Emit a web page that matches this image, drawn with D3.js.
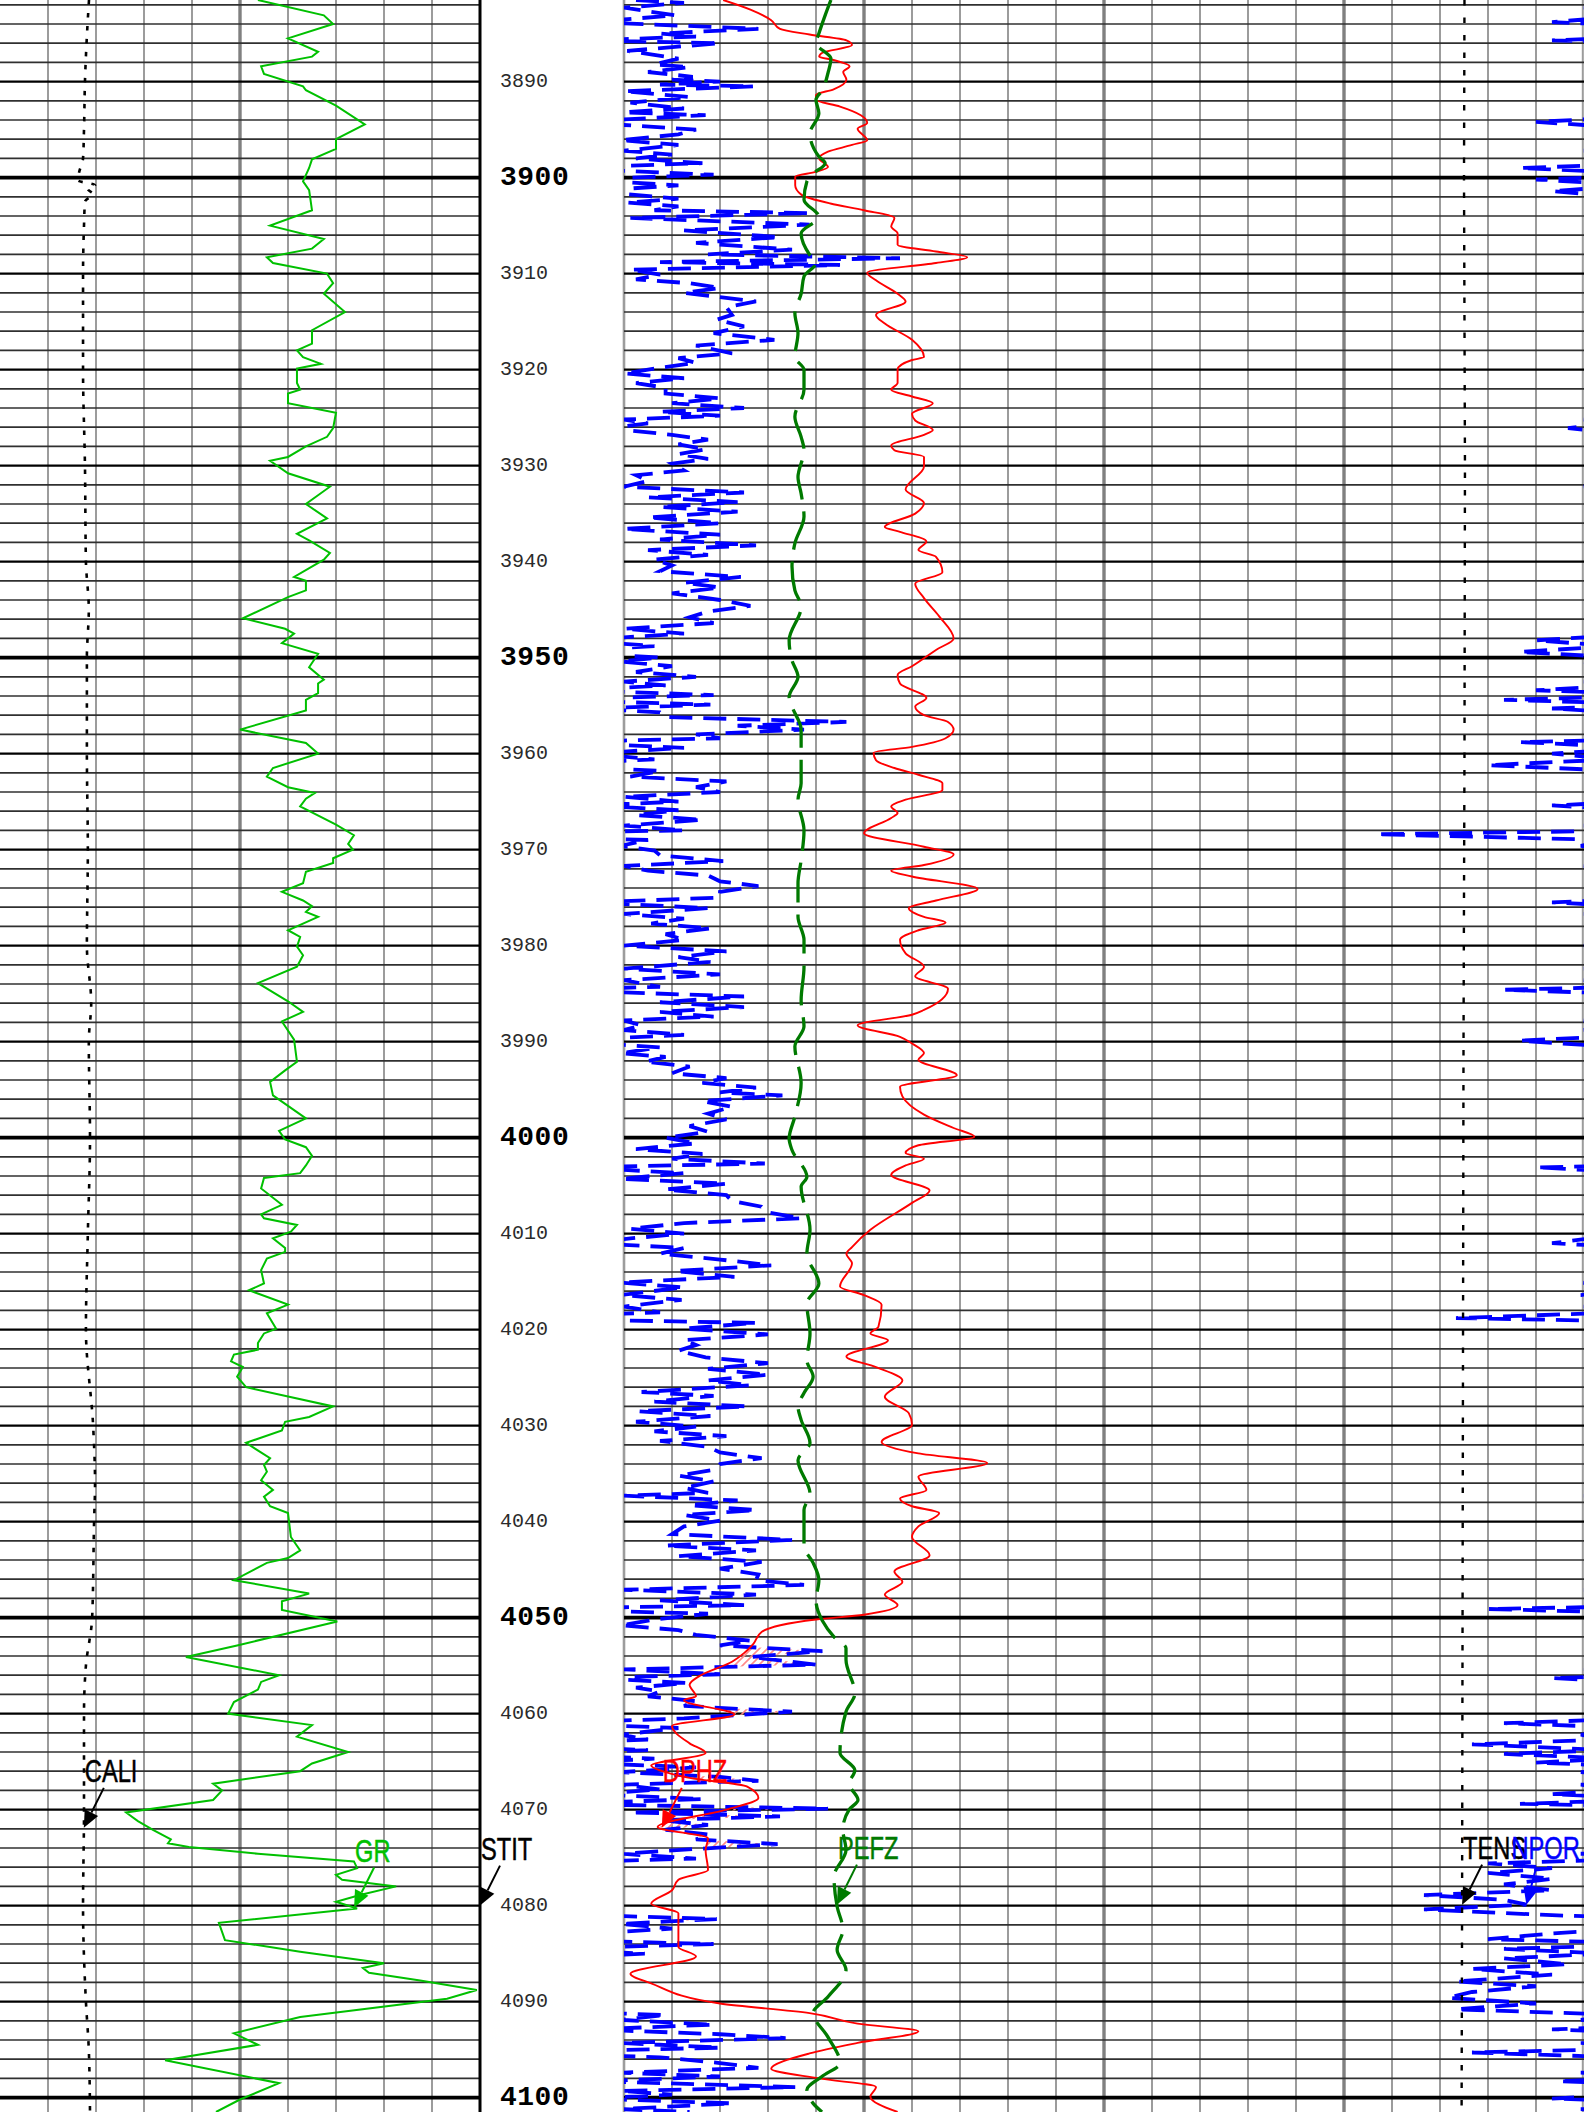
<!DOCTYPE html>
<html><head><meta charset="utf-8">
<script src="https://cdn.jsdelivr.net/npm/d3@7"></script>
<style>html,body{margin:0;padding:0;background:#fff;overflow:hidden}svg{display:block}</style>
</head><body>
<svg id="chart" width="1584" height="2112"></svg>
<script>
// ---------------- DATA ----------------
const depthLabels = [3890,3900,3910,3920,3930,3940,3950,3960,3970,3980,3990,4000,4010,4020,4030,4040,4050,4060,4070,4080,4090,4100];

const grData = [[3881.5,80.6],[3883.1,101.2],[3884.0,104.1],[3885.5,90],[3886.9,99.4],[3887.4,97.5],[3888.4,81.6],[3889.2,82.5],[3890.5,94.7],[3890.9,95.6],[3892.5,105],[3894.45,114],[3896.0,105],[3897.0,105],[3898.1,97.5],[3899.0,96.6],[3900.4,94.7],[3901.3,96.6],[3903.4,97.5],[3905.0,84.4],[3906.4,101.2],[3907.4,97.5],[3908.3,83.4],[3908.9,85.3],[3910.0,102.2],[3911.0,104.1],[3912.1,101.2],[3914.0,107.8],[3915.9,97.5],[3917.3,97.5],[3918.0,92.8],[3918.7,94.7],[3919.4,100.3],[3919.9,92.8],[3921.4,92.8],[3922.1,93.8],[3922.5,90],[3923.5,90],[3924.5,105],[3926.1,104.1],[3927.0,102.2],[3928.0,95.6],[3929.1,90],[3929.5,84.4],[3930.8,90],[3932.2,103.1],[3934.0,95.6],[3935.5,102.2],[3937.1,92.8],[3937.8,96.6],[3939.1,103.1],[3939.8,101.2],[3941.6,91.9],[3942.0,95.6],[3943.0,95.6],[3943.7,90],[3945.9,75.9],[3947.0,89.1],[3947.5,91.9],[3948.5,88.1],[3949.6,99.4],[3951.0,96.6],[3952.3,101.2],[3952.7,99.4],[3953.7,99.4],[3954.4,95.6],[3955.5,95.6],[3957.5,75],[3958.9,95.6],[3960.0,99.4],[3961.5,85.3],[3962.4,83.4],[3963.5,90],[3964.1,98.4],[3964.7,95.6],[3965.5,93.8],[3967.4,105],[3968.5,110.6],[3969.4,108.8],[3970.0,110.3],[3970.9,104.1],[3971.4,104.1],[3972.3,95.6],[3973.5,94.7],[3974.4,88.1],[3975.3,94.7],[3975.9,97.5],[3976.5,95.6],[3977.0,99.4],[3978.4,90],[3979.1,93.8],[3980.1,92.8],[3981.0,94.7],[3982.2,92.8],[3983.9,80.6],[3985.8,90],[3986.9,94.7],[3987.9,88.1],[3989.8,91.9],[3992.1,92.8],[3993.0,89.1],[3994.2,84.4],[3995.6,85.3],[3998.0,95.6],[3999.3,87.2],[4000.2,89.1],[4001.0,95.6],[4001.9,97.5],[4002.9,95.6],[4003.7,93.8],[4004.2,82.5],[4005.3,81.6],[4007.0,88.1],[4008.0,81.6],[4008.4,82.5],[4009.1,92.8],[4009.8,90.9],[4010.5,85.3],[4011.5,89.1],[4011.9,89.1],[4012.6,83.4],[4013.8,81.6],[4015.2,82.5],[4015.9,77.8],[4017.4,90],[4018.3,83.4],[4019.9,86.3],[4020.4,82.5],[4021.4,80.6],[4022.1,80.6],[4022.6,73.1],[4023.3,72.2],[4023.9,75.9],[4024.9,74.1],[4026.0,76.9],[4028.0,104.1],[4029.1,96.6],[4029.6,89.1],[4030.5,88.1],[4031.8,76.9],[4033.4,84.4],[4034.1,82.5],[4034.8,83.4],[4035.7,81.6],[4036.7,85.3],[4037.4,82.5],[4038.4,84.4],[4039.1,90],[4041.6,90.9],[4043.0,93.8],[4043.8,90],[4044.3,83.4],[4046.1,73.1],[4047.5,96.6],[4048.3,88.1],[4049.2,88.1],[4050.4,105.4],[4052.9,74.1],[4054.1,58.1],[4056.0,87.2],[4056.7,81.6],[4057.5,80.6],[4058.8,73.1],[4060.0,71.3],[4061.2,97.5],[4062.4,92.8],[4064.0,108.8],[4065.2,97.5],[4066.0,93.8],[4067.3,66.6],[4068.0,69.4],[4069.0,66.6],[4070.3,39.4],[4071.2,43.1],[4072.1,47.8],[4073.1,53.4],[4073.5,52.5],[4073.9,59],[4074.6,80.6],[4075.4,110.6],[4076.1,111.6],[4076.8,105],[4077.3,106.9],[4078.0,123.8],[4078.9,112.5],[4079.6,105],[4080.3,111.6],[4081.8,68.4],[4083.6,70.3],[4084.8,93.8],[4086.0,120],[4086.5,113.4],[4087.0,115.3],[4087.8,131.3],[4088.8,149],[4089.7,139.7],[4091.6,93.8],[4093.3,73.1],[4094.5,80.6],[4096.1,51.6],[4098.5,87.2],[4100.2,75],[4101.5,67.5]];

const caliData = [[3881.5,7.854],[3885,7.813],[3890,7.77],[3895,7.75],[3898,7.73],[3899.5,7.646],[3900.3,7.625],[3900.8,7.98],[3901.2,7.83],[3901.7,7.94],[3902.5,7.77],[3905,7.75],[3910,7.73],[3920,7.73],[3930,7.77],[3940,7.79],[3945,7.85],[3950,7.81],[3960,7.81],[3970,7.83],[3980,7.81],[3986,7.9],[3990,7.85],[4000,7.875],[4010,7.83],[4020,7.79],[4030,7.94],[4036,7.98],[4040,7.96],[4050,7.92],[4055,7.79],[4060,7.75],[4065,7.75],[4070,7.75],[4080,7.73],[4090,7.79],[4095,7.85],[4101.5,7.875]];

const stitData = [[3881.5,100],[4101.5,100]];

const dphzData = [[3881.5,.388],[3882.5,.371],[3883.6,.358],[3884.5,.3525],[3885.1,.334],[3885.7,.311],[3886.2,.3075],[3887.0,.326],[3887.4,.328],[3887.75,.319],[3888.4,.309],[3889.0,.313],[3889.8,.311],[3890.8,.319],[3891.4,.330],[3891.9,.330],[3892.6,.315],[3893.5,.302],[3894.3,.298],[3894.9,.304],[3896.1,.298],[3896.6,.3075],[3897.3,.3225],[3898.0,.328],[3898.9,.3225],[3899.4,.330],[3899.9,.343],[3900.8,.343],[3901.8,.339],[3902.7,.321],[3903.4,.300],[3904.2,.281],[3905.1,.283],[3905.8,.279],[3907.0,.279],[3907.7,.255],[3908.3,.2355],[3908.9,.255],[3909.9,.298],[3910.7,.2925],[3912.1,.279],[3912.9,.274],[3914.3,.2925],[3915.2,.287],[3916.9,.270],[3918.7,.2625],[3919.0,.270],[3920.0,.279],[3921.4,.279],[3922.1,.283],[3922.8,.270],[3923.5,.257],[3924.6,.270],[3925.3,.268],[3926.3,.257],[3926.8,.2625],[3927.9,.283],[3928.4,.281],[3929.1,.2625],[3930.1,.2625],[3932.5,.274],[3933.9,.2625],[3935.0,.268],[3936.4,.287],[3936.9,.2775],[3937.9,.261],[3938.8,.266],[3939.5,.255],[3941.1,.251],[3942.3,.268],[3943.8,.2625],[3945.7,.253],[3948.0,.244],[3949.2,.255],[3950.9,.270],[3951.8,.279],[3952.7,.2775],[3954.2,.261],[3955.1,.268],[3956.0,.2625],[3956.7,.2475],[3957.5,.244],[3958.4,.249],[3959.3,.270],[3959.9,.294],[3960.7,.2925],[3961.5,.281],[3962.2,.266],[3963.1,.251],[3963.8,.251],[3964.8,.274],[3965.5,.283],[3966.2,.279],[3966.7,.283],[3968.3,.300],[3969.7,.2625],[3970.5,.244],[3971.6,.2625],[3972.2,.283],[3972.8,.270],[3974.1,.229],[3975.3,.255],[3976.1,.272],[3977.0,.2625],[3977.6,.249],[3978.4,.266],[3979.4,.2775],[3980.8,.274],[3982.2,.2625],[3983.2,.268],[3984.5,.2475],[3986.7,.2625],[3987.2,.270],[3988.3,.304],[3989.5,.2775],[3990.2,.270],[3991.2,.2625],[3991.9,.266],[3993.5,.242],[3994.7,.2775],[3995.7,.276],[3997.6,.2625],[3999.0,.244],[3999.9,.231],[4000.8,.266],[4001.6,.274],[4002.2,.2625],[4002.9,.274],[4003.9,.283],[4005.5,.259],[4006.8,.270],[4009.6,.296],[4011.4,.3075],[4012.1,.311],[4013.1,.3075],[4015.5,.315],[4016.4,.300],[4017.4,.289],[4019.7,.291],[4020.4,.296],[4021.1,.285],[4022.8,.311],[4023.9,.2925],[4025.3,.276],[4027.0,.287],[4028.7,.272],[4029.9,.270],[4031.7,.289],[4032.9,.266],[4033.9,.223],[4035.3,.266],[4036.7,.261],[4037.6,.2775],[4038.4,.270],[4039.1,.253],[4040.5,.266],[4041.6,.270],[4043.5,.259],[4045.2,.281],[4046.3,.276],[4047.6,.287],[4048.7,.279],[4049.7,.300],[4050.2,.330],[4051.5,.364],[4052.7,.369],[4053.7,.375],[4054.6,.3825],[4056.1,.403],[4057.0,.409],[4058.2,.405],[4058.6,.4125],[4060.1,.381],[4061.3,.420],[4063.1,.409],[4064.1,.399],[4065.4,.433],[4066.1,.424],[4066.7,.409],[4067.6,.373],[4068.8,.366],[4070.0,.386],[4071.8,.429],[4073.0,.3975],[4074.2,.399],[4076.3,.3975],[4077.3,.416],[4078.4,.420],[4079.8,.433],[4080.8,.416],[4084.3,.416],[4085.3,.405],[4087.1,.446],[4088.1,.433],[4090.2,.390],[4091.2,.334],[4092.3,.304],[4093.1,.266],[4094.3,.304],[4095.4,.334],[4097.0,.358],[4098.0,.328],[4098.9,.2925],[4099.9,.296],[4101.5,.279]];

const pefzData = [[3881.5,4.31],[3883.1,4.19],[3885.0,4.06],[3886.0,4.0],[3887.6,4.31],[3889.1,4.25],[3890.9,4.13],[3891.9,4.0],[3893.3,4.06],[3895.4,3.875],[3897.8,4.06],[3898.5,4.19],[3899.6,3.94],[3900.4,3.81],[3902.3,3.75],[3904.1,4.06],[3905.8,3.69],[3908.1,3.875],[3908.9,4.0],[3910.3,3.75],[3912.1,3.69],[3914.1,3.56],[3916.2,3.625],[3918.7,3.56],[3920.0,3.75],[3922.1,3.75],[3924.9,3.56],[3927.0,3.69],[3928.4,3.75],[3931.2,3.625],[3932.9,3.69],[3935.3,3.75],[3938.1,3.56],[3940.5,3.5],[3943.0,3.56],[3944.7,3.69],[3948.2,3.44],[3950.3,3.5],[3952.0,3.625],[3954.1,3.44],[3955.1,3.5],[3957.5,3.69],[3959.6,3.69],[3963.1,3.69],[3964.8,3.625],[3968.0,3.75],[3971.1,3.69],[3973.5,3.625],[3977.0,3.625],[3979.4,3.75],[3982.2,3.75],[3985.7,3.69],[3988.4,3.75],[3990.5,3.56],[3994.3,3.69],[3997.8,3.56],[4000.1,3.44],[4001.3,3.5],[4004.1,3.81],[4005.1,3.69],[4009.6,3.875],[4012.1,3.81],[4015.2,4.06],[4017.3,3.81],[4020.4,3.875],[4023.2,3.81],[4024.9,3.94],[4026.6,3.75],[4028.0,3.625],[4029.4,3.69],[4031.8,3.875],[4033.6,3.625],[4037.1,3.875],[4038.8,3.75],[4042.6,3.75],[4044.3,3.94],[4046.1,4.06],[4048.2,4.0],[4050.3,4.13],[4052.0,4.375],[4053.2,4.625],[4054.4,4.625],[4057.9,4.81],[4059.8,4.625],[4064.1,4.5],[4065.9,4.81],[4067.3,4.69],[4069.0,4.875],[4070.0,4.69],[4072.1,4.56],[4074.2,4.625],[4077.0,4.375],[4080.1,4.44],[4082.5,4.56],[4084.6,4.44],[4086.7,4.625],[4089.5,4.25],[4091.2,3.94],[4093.7,4.25],[4096.4,4.5],[4097.8,4.125],[4099.2,3.81],[4100.6,3.94],[4101.5,4.125]];

const nporData = [[3881.5,.4425],[3881.8,.4125],[3882.3,.450],[3883.1,.418],[3883.8,.470],[3884.5,.366],[3885.0,.4275],[3885.3,.405],[3885.7,.470],[3886.0,.390],[3886.8,.448],[3887.6,.416],[3888.2,.431],[3888.5,.409],[3889.0,.435],[3889.5,.407],[3889.8,.420],[3890.0,.390],[3890.3,.4275],[3890.5,.369],[3891.0,.450],[3891.6,.409],[3892.2,.446],[3892.8,.4125],[3893.2,.450],[3893.5,.399],[3894.2,.480],[3895.0,.405],[3895.5,.416],[3896.1,.452],[3896.6,.416],[3897.2,.450],[3897.6,.420],[3898.0,.4425],[3898.5,.401],[3899.0,.490],[3899.7,.394],[3900.2,.480],[3900.8,.416],[3901.4,.470],[3902.2,.416],[3902.6,.448],[3903.0,.416],[3903.4,.431],[3903.7,.334],[3904.2,.446],[3904.9,.334],[3905.5,.4125],[3906.2,.3525],[3906.8,.405],[3907.5,.345],[3908.0,.3975],[3908.4,.2775],[3908.8,.4275],[3909.1,.315],[3909.6,.446],[3910.1,.4275],[3910.6,.4425],[3911.0,.409],[3911.5,.390],[3912.0,.4125],[3912.9,.3675],[3913.5,.386],[3914.3,.3825],[3914.8,.392],[3915.5,.375],[3916.2,.394],[3916.9,.356],[3917.5,.405],[3918.3,.3825],[3918.8,.416],[3919.3,.405],[3919.8,.4275],[3920.4,.450],[3920.9,.4125],[3921.4,.4425],[3921.9,.424],[3922.5,.424],[3923.0,.390],[3923.5,.420],[3924.0,.375],[3924.4,.4275],[3924.8,.390],[3925.2,.450],[3925.6,.435],[3926.1,.460],[3926.8,.420],[3927.3,.3975],[3927.8,.416],[3928.3,.399],[3928.8,.416],[3929.3,.3975],[3929.8,.420],[3930.5,.4125],[3931.0,.4425],[3931.6,.435],[3932.2,.450],[3932.8,.375],[3933.3,.435],[3933.8,.379],[3934.3,.4275],[3934.8,.379],[3935.4,.435],[3936.0,.390],[3936.6,.450],[3937.2,.390],[3937.7,.4275],[3938.3,.3675],[3938.8,.435],[3939.3,.3975],[3939.8,.431],[3940.4,.420],[3941.0,.4275],[3941.6,.377],[3942.2,.4125],[3942.7,.390],[3943.3,.420],[3944.0,.390],[3944.6,.371],[3945.2,.3975],[3945.8,.409],[3946.4,.394],[3947.0,.450],[3947.5,.4125],[3948.2,.480],[3948.8,.431],[3949.4,.490],[3950.0,.4275],[3950.4,.452],[3950.9,.420],[3951.5,.4425],[3952.0,.405],[3952.5,.450],[3952.9,.424],[3953.4,.480],[3953.9,.394],[3954.4,.500],[3954.9,.396],[3955.3,.470],[3955.7,.4275],[3956.2,.424],[3956.7,.311],[3957.1,.379],[3957.5,.3375],[3958.0,.405],[3958.4,.390],[3958.8,.490],[3959.4,.4125],[3960.0,.470],[3960.6,.431],[3961.2,.510],[3961.8,.4275],[3962.4,.446],[3962.9,.386],[3963.5,.405],[3964.0,.390],[3964.5,.450],[3965.0,.416],[3965.4,.470],[3965.9,.416],[3966.4,.4425],[3966.9,.401],[3967.5,.450],[3968.0,.4125],[3968.4,.580],[3969.0,.435],[3969.6,.452],[3970.1,.431],[3970.6,.4275],[3971.2,.388],[3971.7,.450],[3972.2,.435],[3972.7,.3975],[3973.3,.390],[3973.8,.366],[3974.4,.390],[3975.0,.390],[3975.5,.470],[3976.1,.3975],[3976.7,.450],[3977.2,.4125],[3977.7,.433],[3978.2,.396],[3978.8,.424],[3979.4,.4125],[3980.0,.450],[3980.6,.386],[3981.2,.416],[3981.7,.396],[3982.4,.450],[3983.0,.390],[3983.6,.450],[3984.3,.4275],[3984.6,.500],[3985.3,.375],[3985.9,.4275],[3986.4,.375],[3986.9,.4275],[3987.4,.394],[3987.8,.450],[3988.3,.439],[3988.8,.450],[3989.3,.4125],[3989.9,.490],[3990.6,.4275],[3991.2,.452],[3991.6,.424],[3992.1,.437],[3992.6,.409],[3993.3,.420],[3993.8,.386],[3994.3,.401],[3994.8,.3675],[3995.3,.390],[3995.6,.351],[3996.2,.401],[3996.8,.3825],[3997.5,.3975],[3998.1,.386],[3998.8,.409],[3999.4,.3975],[4000.0,.424],[4000.6,.405],[4001.2,.4425],[4001.7,.401],[4002.2,.420],[4002.7,.362],[4003.1,.480],[4003.7,.4125],[4004.3,.452],[4004.8,.386],[4005.4,.424],[4006.0,.386],[4006.6,.3825],[4007.2,.364],[4007.8,.360],[4008.4,.339],[4008.9,.4125],[4009.5,.446],[4010.0,.4125],[4010.5,.446],[4011.0,.470],[4011.5,.4125],[4012.1,.4275],[4012.7,.390],[4013.3,.358],[4013.9,.418],[4014.5,.381],[4015.1,.452],[4015.6,.4125],[4016.4,.452],[4016.9,.414],[4017.6,.450],[4018.2,.4275],[4018.8,.530],[4019.3,.3675],[4019.9,.4125],[4020.5,.360],[4021.1,.4125],[4021.6,.405],[4022.2,.416],[4022.9,.399],[4023.5,.360],[4024.1,.3975],[4024.7,.360],[4025.3,.3975],[4025.8,.371],[4026.5,.439],[4026.9,.394],[4027.5,.431],[4028.0,.373],[4028.5,.441],[4029.0,.396],[4029.6,.4425],[4030.1,.405],[4030.6,.431],[4031.1,.386],[4031.6,.4275],[4032.2,.3975],[4032.8,.390],[4033.4,.364],[4034.0,.390],[4034.6,.394],[4035.2,.416],[4035.8,.394],[4036.5,.4125],[4037.0,.3975],[4037.3,.450],[4037.8,.379],[4038.3,.409],[4038.8,.3675],[4039.3,.4125],[4039.9,.390],[4040.5,.4125],[4041.3,.420],[4041.9,.345],[4042.5,.424],[4043.0,.3675],[4043.6,.416],[4044.2,.364],[4044.9,.390],[4045.5,.366],[4046.1,.3675],[4046.6,.3375],[4047.1,.450],[4047.6,.3675],[4048.2,.4275],[4048.7,.375],[4049.1,.510],[4049.6,.3975],[4050.2,.431],[4050.8,.452],[4051.3,.416],[4051.8,.405],[4052.4,.371],[4052.9,.390],[4053.5,.326],[4054.1,.371],[4054.9,.330],[4055.4,.450],[4055.9,.390],[4056.3,.470],[4056.8,.411],[4057.3,.4425],[4057.7,.4275],[4058.2,.435],[4058.7,.405],[4059.2,.4125],[4059.8,.345],[4060.5,.4125],[4061.0,.500],[4061.5,.416],[4062.2,.452],[4062.7,.435],[4063.2,.520],[4063.8,.435],[4064.2,.500],[4064.7,.431],[4065.1,.480],[4065.6,.405],[4066.1,.452],[4066.6,.390],[4067.0,.366],[4067.4,.452],[4067.9,.4275],[4068.4,.470],[4068.9,.401],[4069.4,.490],[4069.9,.3225],[4070.3,.446],[4070.7,.3525],[4071.1,.4275],[4071.6,.3975],[4072.1,.424],[4072.6,.3975],[4073.1,.405],[4073.6,.354],[4074.1,.405],[4074.6,.452],[4075.1,.405],[4075.6,.510],[4076.1,.470],[4076.6,.510],[4077.2,.470],[4077.8,.500],[4078.4,.470],[4078.9,.550],[4079.4,.500],[4079.9,.486],[4080.4,.550],[4081.0,.470],[4081.4,.392],[4081.9,.452],[4082.4,.420],[4082.9,.470],[4083.5,.510],[4084.0,.394],[4084.5,.500],[4085.0,.437],[4085.5,.500],[4086.1,.460],[4086.6,.520],[4087.2,.470],[4087.9,.530],[4088.4,.480],[4089.0,.520],[4089.6,.535],[4090.2,.480],[4090.8,.530],[4091.4,.424],[4091.9,.452],[4092.4,.394],[4092.9,.470],[4093.4,.390],[4093.8,.349],[4094.3,.452],[4094.8,.390],[4095.3,.520],[4095.8,.4275],[4096.4,.390],[4096.9,.366],[4097.4,.452],[4097.8,.390],[4098.3,.466],[4098.9,.343],[4099.3,.452],[4099.7,.420],[4100.1,.470],[4100.6,.3825],[4101.2,.452],[4101.5,.409]];

const tensData = [[3881.5,2490],[3900,2500],[3930,2480],[3960,2490],[3990,2510],[4020,2520],[4050,2530],[4080,2540],[4101.5,2550]];

const curveNames = ["CALI","GR","STIT","DPHZ","PEFZ","TENS","NPOR"];
const labelDepths = [4071.9, 4080.2, 4080.0, 4071.9, 4079.9, 4079.9, 4079.9];

// ---------------- LAYOUT ----------------
const W = 1584, H = 2112;
const T1 = [0, 480], T23 = [624, 1584];
const svg = d3.select("#chart");
const y = d3.scaleLinear().domain([3881.5, 4101.5]).range([0, H]);
const grX = d3.scaleLinear().domain([0, 150]).range(T1);
const caliX = d3.scaleLinear().domain([6, 16]).range(T1);
const stitX = d3.scaleLinear().domain([0, 100]).range(T1);
const porX = d3.scaleLinear().domain([0.45, -0.15]).range(T23);
const pefX = d3.scaleLinear().domain([0, 10]).range([624, 1104]);
const tensX = d3.scaleLinear().domain([10000, 0]).range([1104, 1584]);
const wrap = T23[1] - T23[0];

const defs = svg.append("defs");
defs.append("clipPath").attr("id", "c1").append("rect").attr("x", T1[0]).attr("y", 0).attr("width", T1[1] - T1[0]).attr("height", H);
defs.append("clipPath").attr("id", "c23").append("rect").attr("x", T23[0]).attr("y", 0).attr("width", T23[1] - T23[0]).attr("height", H);
const pat = defs.append("pattern").attr("id", "hatch").attr("patternUnits", "userSpaceOnUse").attr("width", 8).attr("height", 8);
pat.append("path").attr("d", "M-2,10 L10,-2 M-2,2 L2,-2 M6,10 L10,6").attr("stroke", "#ff8a8a").attr("stroke-width", 1.6);

// vertical grid
const g1 = d3.scaleLinear().domain([0, 10]).range(T1);
const g23 = d3.scaleLinear().domain([0, 20]).range(T23);
const vg = svg.append("g");
d3.range(1, 10).forEach(i => {
  const major = i === 5;
  vg.append("line").attr("x1", g1(i)).attr("x2", g1(i)).attr("y1", 0).attr("y2", H)
    .attr("stroke", major ? "#808080" : "#9c9c9c").attr("stroke-width", major ? 3.4 : 2);
});
d3.range(0, 21).forEach(i => {
  const major = i % 5 === 0 && i > 0 && i < 20;
  const x = i === 20 ? T23[1] - 1.2 : g23(i);
  vg.append("line").attr("x1", x).attr("x2", x).attr("y1", 0).attr("y2", H)
    .attr("stroke", major ? "#808080" : "#9c9c9c").attr("stroke-width", major ? 3.4 : (i === 0 ? 2.6 : 2));
});

// horizontal grid
const hg = svg.append("g");
const hdepths = d3.range(3882, 4101, 2);
hdepths.forEach(d => {
  const lvl = d % 50 === 0 ? 2 : (d % 10 === 0 ? 1 : 0);
  const sw = [1.7, 2.4, 3.6][lvl];
  const col = ["#303030", "#000", "#000"][lvl];
  [T1, T23].forEach(t => {
    hg.append("line").attr("x1", t[0]).attr("x2", t[1]).attr("y1", y(d)).attr("y2", y(d))
      .attr("stroke", col).attr("stroke-width", sw);
  });
});

// track 1 right border
svg.append("line").attr("x1", T1[1]).attr("x2", T1[1]).attr("y1", 0).attr("y2", H).attr("stroke", "#000").attr("stroke-width", 3);

// depth labels
svg.append("g").selectAll("text").data(depthLabels).join("text")
  .attr("x", 500).attr("y", d => y(d)).attr("dominant-baseline", "central")
  .attr("font-family", "'Liberation Mono','DejaVu Sans Mono',monospace")
  .attr("font-size", d => d % 50 === 0 ? 28 : 20)
  .attr("font-weight", d => d % 50 === 0 ? "bold" : "normal")
  .attr("letter-spacing", d => d % 50 === 0 ? 0.5 : 0)
  .attr("fill", d => d % 50 === 0 ? "#000" : "#2a2a2a")
  .text(d => d);

// helpers
function interp(data, d) {
  const i = d3.bisector(p => p[0]).left(data, d);
  if (i <= 0) return data[0][1];
  if (i >= data.length) return data[data.length - 1][1];
  const a = data[i - 1], b = data[i];
  return a[1] + (d - a[0]) / (b[0] - a[0]) * (b[1] - a[1]);
}

// crossover hatch (NPOR right of DPHZ)
const fine = d3.range(3881.5, 4101.51, 0.05).map(d => {
  const xd = porX(interp(dphzData, d)), xn = porX(interp(nporData, d));
  return [d, xd, Math.max(xd, xn)];
});
const c23 = svg.append("g").attr("clip-path", "url(#c23)");
c23.append("path").datum(fine)
  .attr("d", d3.area().y(p => y(p[0])).x0(p => p[1]).x1(p => p[2]))
  .attr("fill", "url(#hatch)").attr("stroke", "none");

// NPOR (with wrap)
const npLine = d3.line().x(p => porX(p[1])).y(p => y(p[0]));
const npLineW = d3.line().x(p => porX(p[1]) + wrap).y(p => y(p[0]));
[npLine, npLineW].forEach(l => {
  c23.append("path").datum(nporData).attr("d", l).attr("fill", "none")
    .attr("stroke", "#0000ff").attr("stroke-width", 3.8).attr("stroke-dasharray", "23 11");
});
// DPHZ
c23.append("path").datum(dphzData)
  .attr("d", d3.line().x(p => porX(p[1])).y(p => y(p[0])).curve(d3.curveMonotoneY))
  .attr("fill", "none").attr("stroke", "#ff0000").attr("stroke-width", 1.9);
// PEFZ
c23.append("path").datum(pefzData)
  .attr("d", d3.line().x(p => pefX(p[1])).y(p => y(p[0])).curve(d3.curveMonotoneY))
  .attr("fill", "none").attr("stroke", "#007a00").attr("stroke-width", 3.3).attr("stroke-dasharray", "40 12");
// TENS
c23.append("path").datum(tensData)
  .attr("d", d3.line().x(p => tensX(p[1])).y(p => y(p[0])))
  .attr("fill", "none").attr("stroke", "#000").attr("stroke-width", 2.4).attr("stroke-dasharray", "5.5 12");

// track 1 curves
const c1 = svg.append("g").attr("clip-path", "url(#c1)");
c1.append("path").datum(grData)
  .attr("d", d3.line().x(p => grX(p[1])).y(p => y(p[0])))
  .attr("fill", "none").attr("stroke", "#00c000").attr("stroke-width", 2);
c1.append("path").datum(caliData)
  .attr("d", d3.line().x(p => caliX(p[1])).y(p => y(p[0])).curve(d3.curveMonotoneY))
  .attr("fill", "none").attr("stroke", "#000").attr("stroke-width", 2.6).attr("stroke-dasharray", "4.5 8.5");
c1.append("path").datum(stitData)
  .attr("d", d3.line().x(p => stitX(p[1])).y(p => y(p[0])))
  .attr("fill", "none").attr("stroke", "#000").attr("stroke-width", 2);

// curve labels with arrows
const curveInfo = {
  CALI: { data: caliData, x: caliX, color: "#000" },
  GR:   { data: grData, x: grX, color: "#00c000" },
  STIT: { data: stitData, x: stitX, color: "#000" },
  DPHZ: { data: dphzData, x: porX, color: "#ff0000" },
  PEFZ: { data: pefzData, x: pefX, color: "#007a00" },
  TENS: { data: tensData, x: tensX, color: "#000" },
  NPOR: { data: nporData, x: porX, color: "#0000ff", wrapped: true }
};
const lab = svg.append("g");
curveNames.forEach((name, i) => {
  const info = curveInfo[name];
  const d = labelDepths[i];
  const v = interp(info.data, d);
  let tx = info.x(v);
  if (info.wrapped && tx < T23[0]) tx += wrap;
  const ty = y(d);
  const off = name === "NPOR" ? { tdx: -15, sdx: 10, sdy: -38 } : { tdx: 1, sdx: 20, sdy: -40 };
  const sx = tx + off.sdx, sy = ty + off.sdy;
  const len = Math.hypot(tx - sx, ty - sy), ux = (tx - sx) / len, uy = (ty - sy) / len;
  const bx = tx - ux * 17, by = ty - uy * 17, nx = -uy, ny = ux;
  lab.append("line").attr("x1", sx).attr("y1", sy).attr("x2", bx).attr("y2", by)
    .attr("stroke", info.color).attr("stroke-width", 2);
  lab.append("path").attr("d", `M${tx},${ty}L${bx + nx * 7.5},${by + ny * 7.5}L${bx - nx * 7.5},${by - ny * 7.5}Z`)
    .attr("fill", info.color);
  lab.append("text")
    .attr("transform", `translate(${tx + off.tdx},${ty - 46}) scale(0.74,1)`)
    .attr("font-family", "'Liberation Sans',Arial,sans-serif")
    .attr("font-size", 32).attr("fill", info.color)
    .attr("stroke", info.color).attr("stroke-width", 0.5)
    .text(name);
});
</script>
</body></html>
